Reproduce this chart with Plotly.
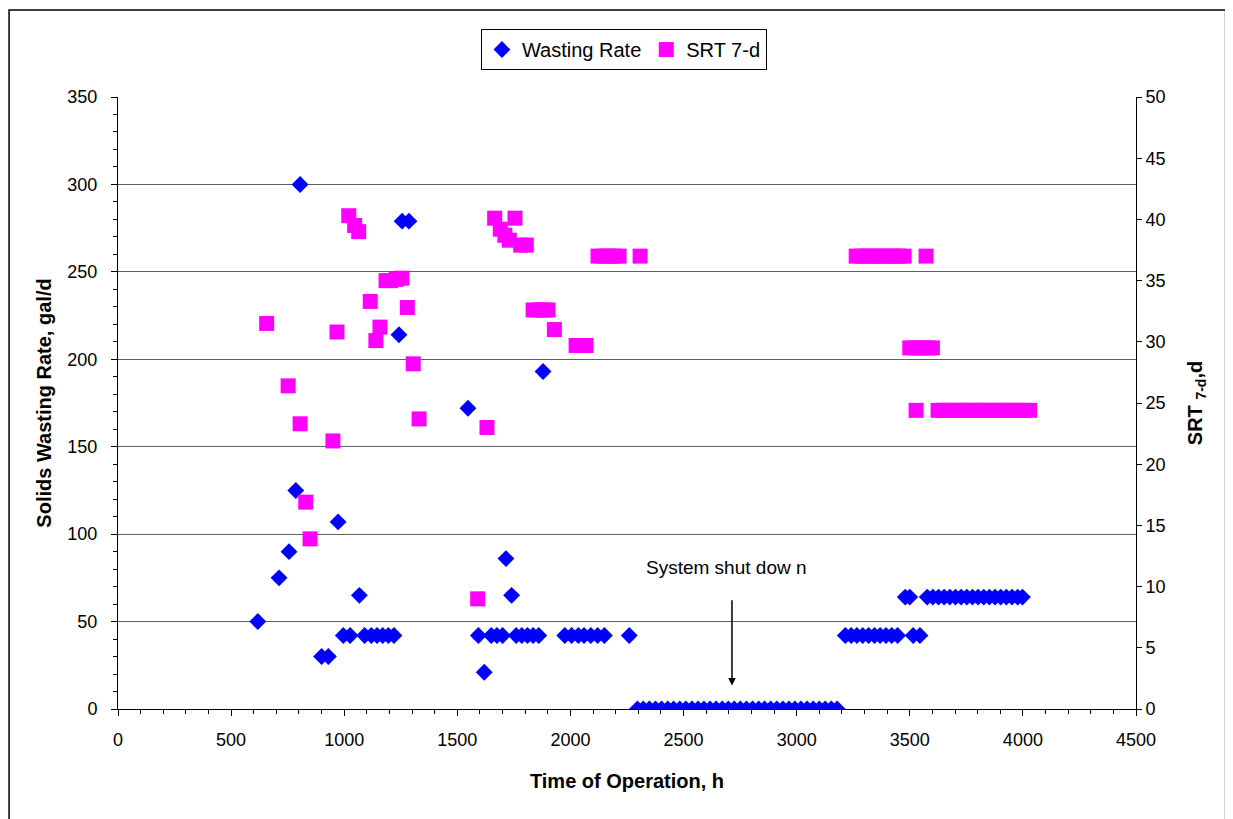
import plotly.graph_objects as go

# Wasting rate (gal/d) vs time of operation (h)
wr_time = [618, 712, 756, 786, 805, 900, 930, 973, 996, 1026, 1067,
           1090, 1120, 1145, 1170, 1195, 1220, 1242, 1256, 1286,
           1547, 1593, 1619, 1650, 1675, 1700, 1715, 1740,
           1760, 1785, 1810, 1835, 1860, 1879,
           1975, 2005, 2035, 2060, 2090, 2120, 2150, 2260,
           2296, 2322, 2349, 2376, 2403, 2430, 2456, 2483, 2510, 2537, 2564, 2590,
           2617, 2644, 2671, 2698, 2724, 2751, 2778, 2805, 2832, 2858, 2885, 2912,
           2939, 2966, 2992, 3019, 3046, 3073, 3100, 3126, 3153, 3179,
           3215, 3241, 3266, 3292, 3318, 3344, 3369, 3395, 3420, 3446,
           3480, 3500, 3515, 3545,
           3577, 3602, 3627, 3652, 3677, 3702, 3727, 3752, 3777, 3802,
           3827, 3852, 3877, 3902, 3927, 3952, 3977, 3998]
wr_value = [50, 75, 90, 125, 300, 30, 30, 107, 42, 42, 65,
            42, 42, 42, 42, 42, 42, 214, 279, 279,
            172, 42, 21, 42, 42, 42, 86, 65,
            42, 42, 42, 42, 42, 193,
            42, 42, 42, 42, 42, 42, 42, 42,
            0, 0, 0, 0, 0, 0, 0, 0, 0, 0, 0, 0,
            0, 0, 0, 0, 0, 0, 0, 0, 0, 0, 0, 0,
            0, 0, 0, 0, 0, 0, 0, 0, 0, 0,
            42, 42, 42, 42, 42, 42, 42, 42, 42, 42,
            64, 64, 42, 42,
            64, 64, 64, 64, 64, 64, 64, 64, 64, 64,
            64, 64, 64, 64, 64, 64, 64, 64]

# SRT 7-d (d) vs time of operation (h)
srt_time = [657, 752, 805, 830, 849, 950, 968, 1020, 1046, 1064,
            1115, 1140, 1158, 1185, 1205, 1230, 1255, 1279, 1305, 1331,
            1590, 1631, 1665, 1690, 1710, 1730, 1755, 1780, 1805,
            1835, 1858, 1880, 1901, 1929, 2025, 2045, 2069,
            2122, 2145, 2168, 2192, 2215, 2308,
            3263, 3287, 3310, 3334, 3357, 3381, 3404, 3428, 3451, 3475, 3572,
            3500, 3525, 3550, 3575, 3600, 3528,
            3625, 3650, 3675, 3700, 3725, 3750, 3775, 3800, 3825,
            3850, 3875, 3900, 3925, 3950, 3975, 4000, 4030]
srt_value = [31.5, 26.4, 23.3, 16.9, 13.9, 21.9, 30.8, 40.3, 39.5, 39.0,
             33.3, 30.1, 31.2, 35.0, 35.0, 35.1, 35.2, 32.8, 28.2, 23.7,
             9.0, 23.0, 40.1, 39.2, 38.7, 38.3, 40.1, 37.9, 37.9,
             32.6, 32.6, 32.6, 32.6, 31.0, 29.7, 29.7, 29.7,
             37.0, 37.0, 37.0, 37.0, 37.0, 37.0,
             37.0, 37.0, 37.0, 37.0, 37.0, 37.0, 37.0, 37.0, 37.0, 37.0, 37.0,
             29.5, 29.5, 29.5, 29.5, 29.5, 24.4,
             24.4, 24.4, 24.4, 24.4, 24.4, 24.4, 24.4, 24.4, 24.4,
             24.4, 24.4, 24.4, 24.4, 24.4, 24.4, 24.4, 24.4]

FONT = "Liberation Sans, Arial, sans-serif"

fig = go.Figure()
fig.add_trace(go.Scatter(
    x=wr_time, y=wr_value, mode="markers", name="Wasting Rate",
    marker=dict(symbol="diamond", size=13, color="#0000FF"),
    yaxis="y",
))
fig.add_trace(go.Scatter(
    x=srt_time, y=srt_value, mode="markers", name="SRT 7-d",
    marker=dict(symbol="square", size=15, color="#FF00FF"),
    yaxis="y2",
))

# shutdown note
fig.add_annotation(x=2692, y=81, xref="x", yref="y", text="System shut dow n",
                   showarrow=False, font=dict(family=FONT, size=19, color="black"))
fig.add_annotation(x=2714, y=13.5, xref="x", yref="y", ax=2714, ay=63,
                   axref="x", ayref="y", text="", showarrow=True,
                   arrowhead=2, arrowsize=1, arrowwidth=1.5, arrowcolor="black")

# outer chart frame
fig.add_shape(type="rect", xref="paper", yref="paper",
              x0=-0.107, x1=1.088, y0=-0.25, y1=1.142,
              line=dict(color="black", width=1.5), layer="below")

# page body has an 8px margin, so the figure is trimmed by 8px
fig.update_layout(
    width=1225, height=811,
    margin=dict(l=110, r=97, t=89, b=110),
    paper_bgcolor="white", plot_bgcolor="white",
    font=dict(family=FONT, size=18, color="black"),
    showlegend=True,
    legend=dict(orientation="h", x=0.497, y=1.111, xanchor="center", yanchor="top",
                bordercolor="black", borderwidth=1, bgcolor="white",
                font=dict(family=FONT, size=20), itemwidth=30,
                tracegroupgap=0),
    xaxis=dict(
        range=[0, 4500], tickvals=[0, 500, 1000, 1500, 2000, 2500, 3000, 3500, 4000, 4500],
        showgrid=False, zeroline=False, showline=True, linecolor="black", linewidth=1,
        ticks="outside", ticklen=6, tickcolor="black", ticklabelstandoff=8,
        minor=dict(dtick=100, ticks="outside", ticklen=4, tickcolor="black", showgrid=False),
        title=dict(text="<b>Time of Operation, h</b>", font=dict(family=FONT, size=20), standoff=25),
        tickfont=dict(family=FONT, size=18),
    ),
    yaxis=dict(
        range=[0, 350], dtick=50,
        showgrid=True, gridcolor="#5f5f5f", gridwidth=1, zeroline=False,
        showline=True, linecolor="black", linewidth=1,
        ticks="outside", ticklen=6, tickcolor="black", ticklabelstandoff=10,
        minor=dict(dtick=10, ticks="outside", ticklen=4, tickcolor="black", showgrid=False),
        title=dict(text="<b>Solids Wasting Rate, gal/d</b>", font=dict(family=FONT, size=20), standoff=10),
        tickfont=dict(family=FONT, size=18),
    ),
    yaxis2=dict(
        range=[0, 50], dtick=5, overlaying="y", side="right", anchor="x",
        showgrid=False, zeroline=False, showline=True, linecolor="black", linewidth=1,
        ticks="outside", ticklen=5, tickcolor="black",
        title=dict(text="<b>SRT <sub>7-d</sub>,d</b>", font=dict(family=FONT, size=20), standoff=23),
        tickfont=dict(family=FONT, size=18),
    ),
    yaxis3=dict(
        range=[0, 50], dtick=5, overlaying="y", side="right", anchor="x",
        showgrid=False, zeroline=False, showline=False, showticklabels=False,
        ticks="inside", ticklen=5, tickcolor="black",
    ),
)

fig.write_html("out.html")
